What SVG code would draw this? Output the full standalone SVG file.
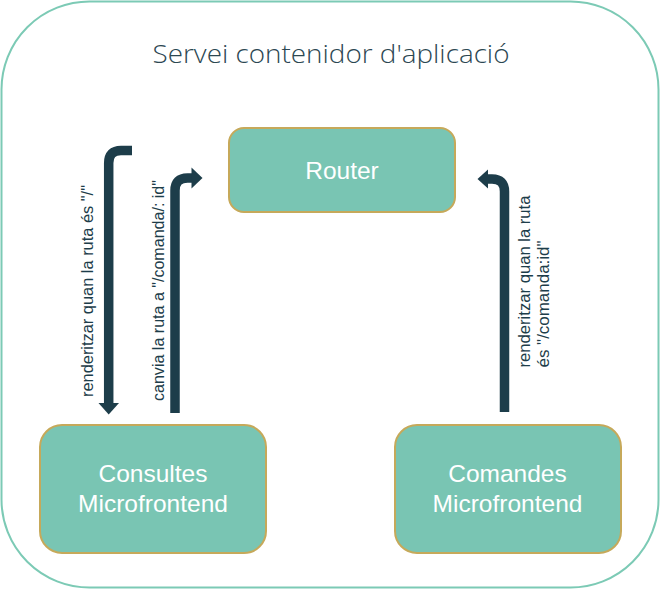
<svg xmlns="http://www.w3.org/2000/svg" width="660" height="589" viewBox="0 0 660 589">
  <style>
    .box { fill: #79c5b3; stroke: #c6a95a; stroke-width: 2; }
    .boxtext { font-family: "Liberation Sans", Arial, sans-serif; font-size: 24.5px; fill: #ffffff; text-anchor: middle; }
    .title { font-family: "Open Sans", "Lato", sans-serif; font-weight: 300; font-size: 26px; fill: #2c4752; text-anchor: middle; }
    .shaft { fill: none; stroke: #1d3d4a; stroke-width: 9.5; }
    .head { fill: #1d3d4a; }
    .lbl { font-family: "Liberation Sans", Arial, sans-serif; font-size: 16px; fill: #1d3d4a; }
  </style>
  <rect x="1.5" y="1.5" width="657" height="586" rx="88" ry="88" fill="#ffffff" stroke="#7ccab5" stroke-width="2"/>
  <text class="title" x="331" y="63" textLength="357" lengthAdjust="spacingAndGlyphs">Servei contenidor d'aplicació</text>

  <g id="router">
    <rect class="box" x="229" y="128" width="226" height="84" rx="15" ry="15"/>
    <text class="boxtext" x="342" y="179">Router</text>
  </g>
  <g id="consultes">
    <rect class="box" x="40" y="425" width="226" height="128" rx="22" ry="22"/>
    <text class="boxtext" x="153" y="482">Consultes</text>
    <text class="boxtext" x="153" y="512">Microfrontend</text>
  </g>
  <g id="comandes">
    <rect class="box" x="395" y="425" width="226" height="128" rx="22" ry="22"/>
    <text class="boxtext" x="507.5" y="482">Comandes</text>
    <text class="boxtext" x="507.5" y="512">Microfrontend</text>
  </g>

  <g id="connectors">
    <path class="shaft" d="M132,150.5 H121 Q108.7,150.5 108.7,163 V404"/>
    <polygon class="head" points="98.5,403 119,403 108.7,414.5"/>
    <path class="shaft" d="M175,413 V190.5 Q175,178 187.5,178 H193"/>
    <polygon class="head" points="191.5,167.5 191.5,188.5 202.5,178"/>
    <path class="shaft" d="M504.5,412 V191.5 Q504.5,179 492,179 H486"/>
    <polygon class="head" points="488,169.5 488,188.5 477.5,179"/>

    <text class="lbl" transform="translate(93.3,397) rotate(-90)" textLength="212" lengthAdjust="spacingAndGlyphs">renderitzar quan la ruta és "/"</text>
    <text class="lbl" transform="translate(164,401) rotate(-90)" textLength="221" lengthAdjust="spacingAndGlyphs">canvia la ruta a "/comanda/: id"</text>
    <text class="lbl" transform="translate(530,367.5) rotate(-90)" textLength="172" lengthAdjust="spacingAndGlyphs">renderitzar quan la ruta</text>
    <text class="lbl" transform="translate(548.5,367.5) rotate(-90)" textLength="127" lengthAdjust="spacingAndGlyphs">és "/comanda:id"</text>
  </g>
</svg>
